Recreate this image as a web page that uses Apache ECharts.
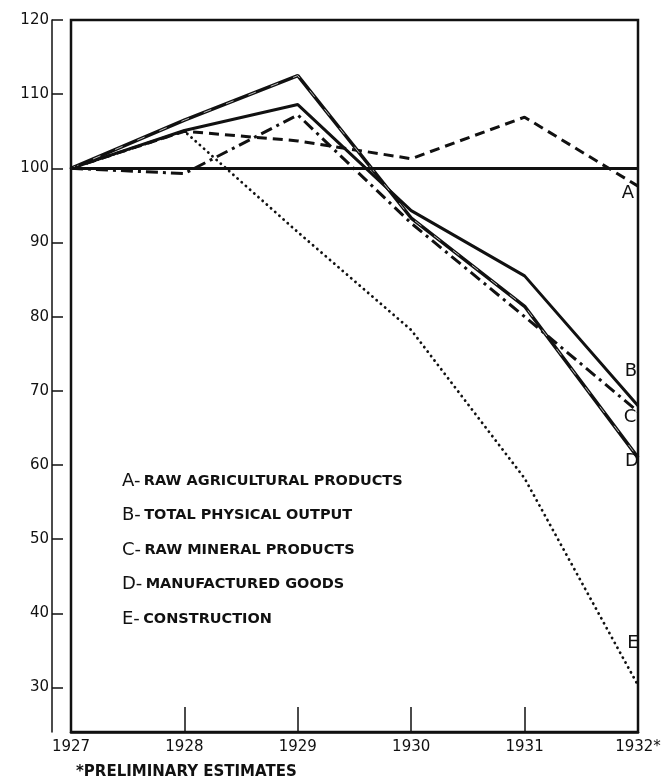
<!DOCTYPE html>
<html>
<head>
<meta charset="utf-8">
<script src="https://cdn.jsdelivr.net/npm/echarts@6/dist/echarts.min.js"></script>
<style>
  html, body { margin: 0; padding: 0; background: #fff; }
  #chart { width: 666px; height: 782px; }
</style>
</head>
<body>
<div id="chart"></div>
<script>
// index values, 1927 = 100
var years = ['1927', '1928', '1929', '1930', '1931', '1932']
var yearLabels = ['1927', '1928', '1929', '1930', '1931', '1932*']
var yTicks = [30, 40, 50, 60, 70, 80, 90, 100, 110, 120]
var baseValue = 100

var agricultural = [100, 105, 103.7, 101.3, 106.9, 97.6]   // A
var totalOutput = [100, 105.1, 108.6, 94.3, 85.5, 68.0]    // B
var mineral = [100, 99.3, 107.2, 92.6, 80.0, 67.2]         // C
var manufactured = [100, 106.5, 112.5, 93.3, 81.4, 61.0]   // D
var construction = [100, 105, 91.4, 78.2, 58.2, 30.3]      // E

var letters = ['A', 'B', 'C', 'D', 'E']
var names = ['RAW AGRICULTURAL PRODUCTS', 'TOTAL PHYSICAL OUTPUT', 'RAW MINERAL PRODUCTS', 'MANUFACTURED GOODS', 'CONSTRUCTION']

var ink = '#111'
var font = 'DejaVu Sans'

function endLabel(letter, dx, dy) {
    return {
        show: true,
        formatter: letter,
        distance: 0,
        offset: [dx, dy],
        align: 'center',
        verticalAlign: 'middle',
        color: ink,
        fontSize: 18,
        fontFamily: font
    }
}

var legendItems = []
for (var i = 0; i < letters.length; i++) {
    legendItems.push({
        type: 'text',
        left: 122,
        top: 472 + i * 34.5,
        style: {
            text: '{k|' + letters[i] + '-} {t|' + names[i] + '}',
            rich: {
                k: { fontSize: 18, fontFamily: font, fill: ink },
                t: { fontSize: 14.5, fontFamily: font, fill: ink, fontWeight: 'bold' }
            }
        }
    })
}

var option = {
    animation: false,
    backgroundColor: '#fff',
    grid: {
        left: 71,
        right: 28,
        top: 20,
        bottom: 50,
        show: true,
        borderColor: ink,
        borderWidth: 2.5
    },
    xAxis: {
        type: 'category',
        data: years,
        boundaryGap: false,
        axisLine: { lineStyle: { color: ink, width: 2.5 } },
        axisTick: { inside: true, length: 25, lineStyle: { color: ink, width: 1.5 } },
        axisLabel: {
            color: ink,
            fontSize: 15,
            fontFamily: font,
            margin: 8,
            formatter: function (v, idx) { return yearLabels[idx] }
        },
        splitLine: { show: false }
    },
    yAxis: {
        type: 'value',
        min: 24,
        max: 120,
        offset: 19,
        axisLine: { show: true, lineStyle: { color: ink, width: 1.5 } },
        axisTick: { show: true, inside: true, length: 11, customValues: yTicks, lineStyle: { color: ink, width: 1.5 } },
        axisLabel: { color: ink, fontSize: 15, fontFamily: font, margin: 3, customValues: yTicks },
        splitLine: { show: false }
    },
    graphic: legendItems.concat([{
        type: 'text',
        left: 76,
        top: 765,
        style: { text: '*PRELIMINARY ESTIMATES', fontSize: 15, fontFamily: font, fill: ink, fontWeight: 'bold' }
    }]),
    series: [
        {
            name: 'A',
            type: 'line',
            data: agricultural,
            symbol: 'none',
            lineStyle: { color: ink, width: 3, type: [10, 6] },
            endLabel: endLabel('A', -10, 7),
            markLine: {
                silent: true,
                symbol: ['none', 'none'],
                label: { show: false },
                lineStyle: { color: ink, width: 3, type: 'solid' },
                data: [{ yAxis: baseValue }]
            }
        },
        {
            name: 'B',
            type: 'line',
            data: totalOutput,
            symbol: 'none',
            lineStyle: { color: ink, width: 3 },
            endLabel: endLabel('B', -7, -34)
        },
        {
            name: 'C',
            type: 'line',
            data: mineral,
            symbol: 'none',
            lineStyle: { color: ink, width: 3, type: [12, 5, 3, 5] },
            endLabel: endLabel('C', -8, 6)
        },
        {
            name: 'D',
            type: 'line',
            data: manufactured,
            symbol: 'none',
            lineStyle: { color: ink, width: 3.5 },
            endLabel: endLabel('D', -6, 4)
        },
        {
            name: 'D-inner',
            type: 'line',
            data: manufactured,
            symbol: 'none',
            silent: true,
            lineStyle: { color: '#fff', width: 0.7, type: [8, 16] }
        },
        {
            name: 'E',
            type: 'line',
            data: construction,
            symbol: 'none',
            lineStyle: { color: ink, width: 2.8, type: [0.1, 5.5], cap: 'round' },
            endLabel: endLabel('E', -5, -42)
        }
    ]
}

var chart = echarts.init(document.getElementById('chart'))
chart.setOption(option)
</script>
</body>
</html>
